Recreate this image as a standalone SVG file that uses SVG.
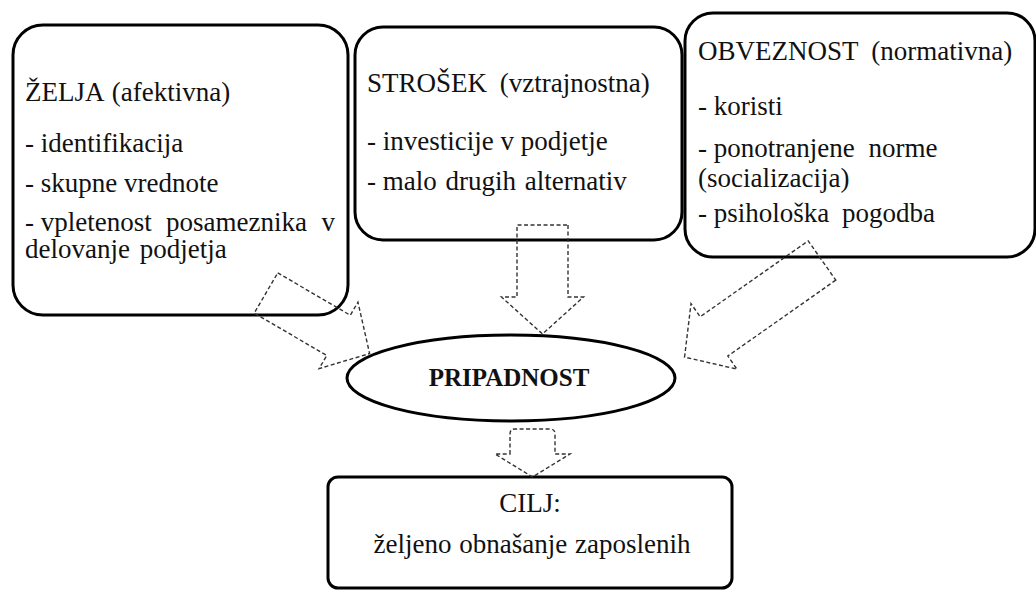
<svg xmlns="http://www.w3.org/2000/svg" width="1036" height="590" viewBox="0 0 1036 590">
<style>
.box{fill:#fff;stroke:#000;stroke-width:3}
text{font-family:'Liberation Serif','DejaVu Serif',serif;font-size:27px;fill:#111}
.b{font-weight:bold;font-size:25px}
.arr{fill:none;stroke:#333;stroke-width:1.4;stroke-dasharray:4 2.5;stroke-linejoin:miter}
</style>
<rect width="1036" height="590" fill="#fff"/>
<g id="node-zelja">
<rect class="box" x="13" y="25" width="335" height="290" rx="30"/>
<text x="25" y="101" word-spacing="2">ŽELJA (afektivna)</text>
<text x="25" y="152">- identifikacija</text>
<text x="25" y="192">- skupne vrednote</text>
<text x="25" y="231">- <tspan word-spacing="7.6">vpletenost posameznika v</tspan></text>
<text x="25" y="258" word-spacing="3">delovanje podjetja</text>
</g>
<g id="node-strosek">
<rect class="box" x="355" y="27" width="327" height="213" rx="28"/>
<text x="367" y="92" word-spacing="6">STROŠEK (vztrajnostna)</text>
<text x="367" y="150">- investicije v podjetje</text>
<text x="367" y="190">- <tspan word-spacing="2">malo drugih alternativ</tspan></text>
</g>
<g id="node-obveznost">
<rect class="box" x="685" y="13" width="350" height="244" rx="28"/>
<text x="698" y="60" word-spacing="6.5">OBVEZNOST (normativna)</text>
<text x="698" y="115">- koristi</text>
<text x="698" y="157">- <tspan word-spacing="7">ponotranjene norme</tspan></text>
<text x="698" y="187">(socializacija)</text>
<text x="698" y="222">- <tspan word-spacing="6">psihološka pogodba</tspan></text>
</g>
<g id="node-pripadnost">
<ellipse class="box" cx="511" cy="378" rx="164" ry="43"/>
<text class="b" x="509" y="386" text-anchor="middle">PRIPADNOST</text>
</g>
<g id="node-cilj">
<rect class="box" x="328" y="477" width="404" height="111" rx="10"/>
<text x="530" y="512" text-anchor="middle">CILJ:</text>
<text x="532" y="553" text-anchor="middle" word-spacing="1">željeno obnašanje zaposlenih</text>
</g>
<g id="connectors">
<polygon class="arr" transform="translate(266 293) rotate(30.3)" points="0,-23.3 84,-23.3 84,-38.5 120,0 84,38.5 84,23.3 0,23.3"/>
<polygon class="arr" transform="translate(542.5 225) rotate(90)" points="0,-25.5 72,-25.5 72,-41 109,0 72,41 72,25.5 0,25.5"/>
<polygon class="arr" transform="translate(822 260.5) rotate(144.9)" points="0,-24 132,-24 132,-40 168,0 132,40 132,24 0,24"/>
<path class="arr" d="M510,454 L510,434 Q510,429 515,429 L550,429 Q555,429 555,434 L555,454 L570,454 L532.5,477 L495,454 Z"/>
</g>
</svg>
